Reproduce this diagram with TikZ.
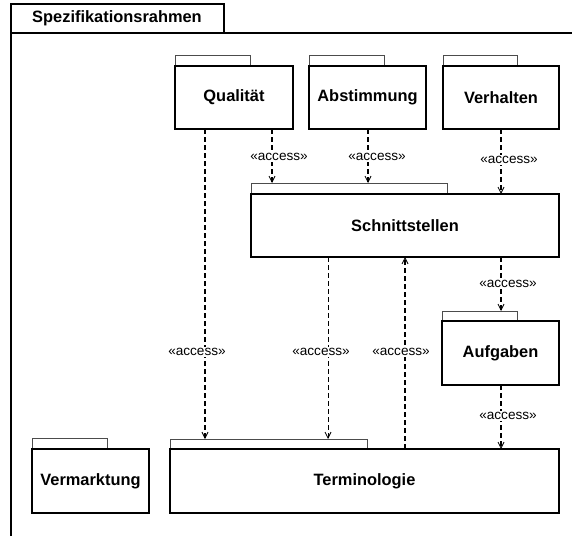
\documentclass[tikz,border=0pt]{standalone}
\usepackage{fontspec}
\setmainfont{Liberation Sans}
\usetikzlibrary{arrows.meta}
\begin{document}
\begin{tikzpicture}[x=1pt,y=-1pt,
  body/.style={draw=black,line width=1.3pt,fill=white},
  tab/.style={draw=black!70,line width=0.9pt,fill=white},
  pkglabel/.style={font=\fontsize{16.4}{18}\selectfont\bfseries},
  acc/.style={font=\fontsize{13.6}{15}\selectfont,fill=white,inner sep=1pt},
  dep/.style={dashed,dash pattern=on 5pt off 3pt,line width=1.5pt,
    -{Straight Barb[length=6pt,width=6pt,line width=0.8pt]}},
  depthin/.style={dep,line width=1pt},
  depmid/.style={dep,line width=1.2pt}]
\useasboundingbox (0,0) rectangle (572,536);
% frame
\draw[line width=1.3pt] (11,536) -- (11,4) -- (224,4) -- (224,33);
\draw[line width=1.3pt] (11,33) -- (572,33);
\node[pkglabel] (title) at (117,18.5) {Spezifikationsrahmen};
% packages: tab then body
\newcommand{\pkg}[9]{%
  \draw[tab] (#4,#1) rectangle (#5,#2);
  \node[inner sep=0pt,minimum size=0pt] (#8T) at ({(#4+#5)/2},#1) {};
  \draw[body] (#4,#2) rectangle (#6,#3);
  \node[pkglabel] (#8) at ({(#4+#6)/2},{(#2+#3)/2}) {#9};
  \coordinate (#8top) at ({(#4+#6)/2},#2);
  \coordinate (#8bot) at ({(#4+#6)/2},#3);
  \ignorespaces#7}
\pkg{55}{66}{129}{175}{250}{293}{}{Q}{Qualität}
\pkg{55}{66}{129}{309}{384}{426}{}{A}{Abstimmung}
\pkg{55}{66}{129}{443}{517}{559}{}{V}{Verhalten}
\pkg{183}{194}{257}{251}{447}{559}{}{S}{Schnittstellen}
\pkg{311}{321}{385}{442}{517}{559}{}{U}{Aufgaben}
\pkg{438}{449}{513}{32}{107}{149}{}{M}{Vermarktung}
\pkg{439}{449}{513}{170}{367}{559}{}{T}{Terminologie}
% dependencies
\draw[depmid] (272,0 |- Qbot) -- (272,0 |- ST);
\node[acc] (l1) at (279,157) {«access»};
\draw[depmid] (368,0 |- Abot) -- (368,0 |- ST);
\node[acc] (l2) at (377,157) {«access»};
\draw[dep] (501,0 |- Vbot) -- (501,0 |- Stop);
\node[acc] (l3) at (509,160) {«access»};
\draw[dep] (205,0 |- Qbot) -- (205,0 |- TT);
\node[acc] (l4) at (197,352) {«access»};
\draw[depthin] (328,0 |- Sbot) -- (328,0 |- TT);
\node[acc] (l5) at (321,352) {«access»};
\draw[dep] (405,0 |- Ttop) -- (405,0 |- Sbot);
\node[acc] (l6) at (401,352) {«access»};
\draw[dep] (501,0 |- Sbot) -- (501,0 |- UT);
\node[acc] (l7) at (508,284) {«access»};
\draw[dep] (501,0 |- Ubot) -- (501,0 |- Ttop);
\node[acc] (l8) at (508,416) {«access»};
\end{tikzpicture}
\end{document}
